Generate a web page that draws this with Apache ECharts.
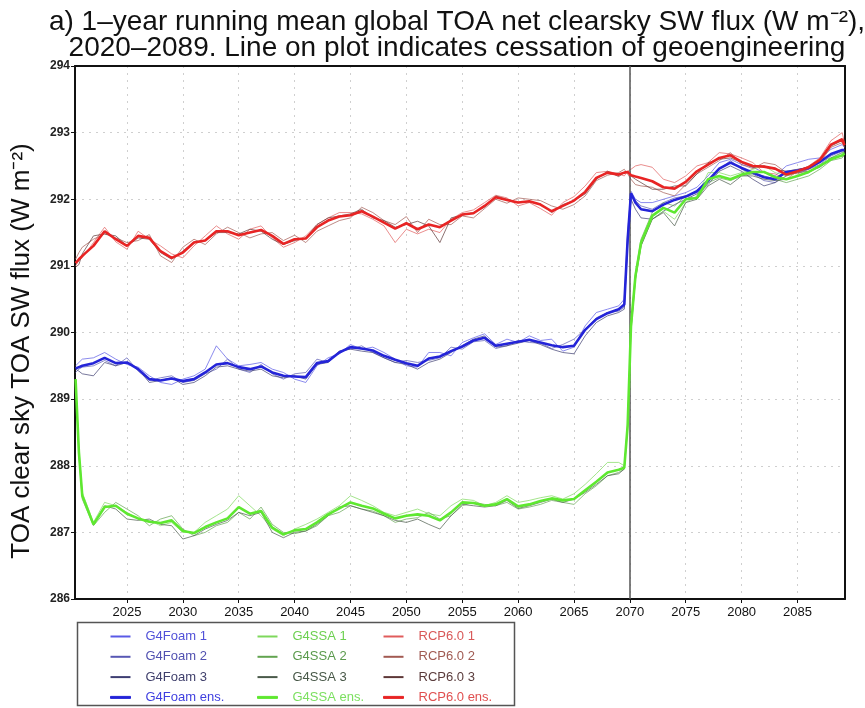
<!DOCTYPE html>
<html>
<head>
<meta charset="utf-8">
<script src="https://cdn.jsdelivr.net/npm/echarts@6/dist/echarts.min.js"></script>
<style>
html,body{margin:0;padding:0;background:#fff;}
#chart{width:865px;height:708px;}
</style>
</head>
<body>
<div id="chart"></div>
<script>
// ---------- DATA ----------
const titleText = "a) 1\u2013year running mean global TOA net clearsky SW flux (W m\u207B\u00B2),\n2020\u20132089. Line on plot indicates cessation of geoengineering";
const yAxisName = "TOA clear sky TOA SW flux (W m\u207B\u00B2)";
const xTickLabels = [2025, 2030, 2035, 2040, 2045, 2050, 2055, 2060, 2065, 2070, 2075, 2080, 2085];
const yTickLabels = [286, 287, 288, 289, 290, 291, 292, 293, 294];
const cessationYear = 2070;

const years = [
  2020.4, 2020.7, 2021, 2022, 2023, 2024, 2025, 2026, 2027, 2028,
  2029, 2030, 2031, 2032, 2033, 2034, 2035, 2036, 2037, 2038,
  2039, 2040, 2041, 2042, 2043, 2044, 2045, 2046, 2047, 2048,
  2049, 2050, 2051, 2052, 2053, 2054, 2055, 2056, 2057, 2058,
  2059, 2060, 2061, 2062, 2063, 2064, 2065, 2066, 2067, 2068,
  2069, 2069.5, 2069.8, 2070.1, 2070.5, 2071, 2072, 2073, 2074, 2075,
  2076, 2077, 2078, 2079, 2080, 2081, 2082, 2083, 2084, 2085,
  2086, 2087, 2088, 2089, 2089.2
];

const g4foam1 = [
  289.50, 289.55, 289.60, 289.62, 289.70, 289.60, 289.52, 289.48, 289.35, 289.25,
  289.22, 289.30, 289.35, 289.45, 289.80, 289.60, 289.50, 289.52, 289.55, 289.45,
  289.40, 289.30, 289.25, 289.50, 289.62, 289.68, 289.82, 289.75, 289.78, 289.70,
  289.60, 289.50, 289.48, 289.70, 289.70, 289.65, 289.85, 289.92, 289.98, 289.82,
  289.90, 289.85, 289.95, 289.88, 289.90, 289.72, 289.78, 290.10, 290.30, 290.35,
  290.40, 290.50, 291.50, 292.12, 292.00, 291.95, 291.95, 292.00, 292.05, 292.10,
  292.18, 292.35, 292.55, 292.60, 292.52, 292.48, 292.40, 292.35, 292.50, 292.55,
  292.60, 292.62, 292.75, 292.82, 292.78
];
const g4foam2 = [
  289.40, 289.45, 289.48, 289.50, 289.58, 289.50, 289.62, 289.42, 289.28, 289.32,
  289.35, 289.25, 289.28, 289.38, 289.45, 289.60, 289.45, 289.40, 289.52, 289.38,
  289.30, 289.38, 289.40, 289.60, 289.55, 289.72, 289.75, 289.80, 289.70, 289.62,
  289.55, 289.58, 289.55, 289.58, 289.62, 289.78, 289.75, 289.86, 289.88, 289.76,
  289.80, 289.88, 289.85, 289.84, 289.76, 289.82, 289.90, 290.05, 290.22, 290.30,
  290.32, 290.38, 291.30, 292.05, 291.98, 291.90, 291.85, 291.95, 292.02, 292.05,
  292.10, 292.25, 292.45, 292.58, 292.45, 292.38, 292.28, 292.25, 292.42, 292.40,
  292.45, 292.52, 292.65, 292.72, 292.70
];
const g4foam3 = [
  289.45, 289.42, 289.38, 289.35, 289.55, 289.50, 289.55, 289.45, 289.25, 289.28,
  289.32, 289.22, 289.25, 289.35, 289.48, 289.50, 289.45, 289.42, 289.45, 289.35,
  289.32, 289.35, 289.30, 289.52, 289.55, 289.72, 289.75, 289.72, 289.70, 289.62,
  289.55, 289.52, 289.45, 289.55, 289.60, 289.70, 289.80, 289.90, 289.95, 289.78,
  289.80, 289.84, 289.88, 289.82, 289.75, 289.70, 289.68, 289.95, 290.15, 290.25,
  290.30, 290.35, 291.35, 292.00, 291.85, 291.72, 291.70, 291.82, 291.92, 292.00,
  292.08, 292.22, 292.42, 292.50, 292.42, 292.30, 292.20, 292.25, 292.35, 292.40,
  292.42, 292.48, 292.62, 292.70, 292.72
];
const g4foamEns = [
  289.46, 289.48, 289.50, 289.54, 289.62, 289.54, 289.55, 289.45, 289.30, 289.28,
  289.31, 289.27, 289.30, 289.40, 289.52, 289.54, 289.48, 289.45, 289.49, 289.40,
  289.35, 289.34, 289.33, 289.54, 289.57, 289.70, 289.78, 289.76, 289.73, 289.65,
  289.59, 289.54, 289.50, 289.61, 289.64, 289.72, 289.79, 289.88, 289.92, 289.80,
  289.83, 289.86, 289.89, 289.85, 289.81, 289.78, 289.80, 290.04, 290.20, 290.29,
  290.35, 290.42, 291.39, 292.09, 291.95, 291.85, 291.82, 291.92, 291.99, 292.04,
  292.12, 292.28, 292.46, 292.55, 292.47, 292.40, 292.33, 292.30, 292.41, 292.43,
  292.47, 292.56, 292.68, 292.74, 292.74
];

const g4ssa1 = [
  289.30, 288.25, 287.60, 287.15, 287.45, 287.40, 287.30, 287.20, 287.18, 287.10,
  287.15, 287.00, 287.00, 287.15, 287.25, 287.35, 287.55, 287.40, 287.25, 287.05,
  286.95, 287.05, 287.12, 287.20, 287.30, 287.40, 287.55, 287.48, 287.40, 287.30,
  287.25, 287.30, 287.35, 287.28, 287.25, 287.40, 287.50, 287.48, 287.40, 287.45,
  287.55, 287.45, 287.48, 287.52, 287.55, 287.50, 287.58, 287.72, 287.88, 288.05,
  288.05, 288.00, 288.60, 290.00, 290.80, 291.30, 291.70, 291.82, 291.70, 291.95,
  292.05, 292.40, 292.40, 292.35, 292.40, 292.45, 292.50, 292.40, 292.35, 292.40,
  292.50, 292.58, 292.62, 292.70, 292.70
];
const g4ssa2 = [
  289.30, 288.15, 287.50, 287.10, 287.30, 287.45, 287.35, 287.25, 287.10, 287.20,
  287.25, 287.05, 286.95, 287.00, 287.10, 287.15, 287.30, 287.20, 287.38, 287.12,
  287.00, 286.98, 287.02, 287.10, 287.25, 287.30, 287.40, 287.35, 287.32, 287.25,
  287.15, 287.20, 287.22, 287.30, 287.20, 287.25, 287.40, 287.45, 287.42, 287.40,
  287.45, 287.35, 287.38, 287.42, 287.48, 287.45, 287.42, 287.58, 287.70, 287.85,
  287.90, 287.95, 288.55, 290.15, 290.90, 291.40, 291.80, 291.95, 291.90, 292.05,
  292.00, 292.25, 292.32, 292.28, 292.35, 292.38, 292.35, 292.30, 292.25, 292.30,
  292.35, 292.45, 292.58, 292.62, 292.68
];
const g4ssa3 = [
  289.30, 288.20, 287.55, 287.12, 287.40, 287.35, 287.20, 287.18, 287.20, 287.12,
  287.10, 286.90, 286.95, 287.05, 287.12, 287.18, 287.30, 287.25, 287.30, 287.00,
  286.92, 287.00, 287.02, 287.12, 287.25, 287.38, 287.40, 287.35, 287.30, 287.25,
  287.18, 287.15, 287.20, 287.12, 287.05, 287.25, 287.42, 287.40, 287.38, 287.40,
  287.48, 287.36, 287.40, 287.45, 287.50, 287.45, 287.50, 287.60, 287.72, 287.85,
  287.88, 287.95, 288.65, 290.05, 290.80, 291.30, 291.70, 291.80, 291.60, 291.95,
  292.00, 292.20, 292.30, 292.22, 292.35, 292.35, 292.30, 292.28, 292.30, 292.35,
  292.40, 292.50, 292.62, 292.65, 292.65
];
const g4ssaEns = [
  289.30, 288.20, 287.55, 287.12, 287.38, 287.40, 287.28, 287.21, 287.16, 287.14,
  287.18, 287.02, 286.99, 287.08, 287.15, 287.21, 287.38, 287.28, 287.32, 287.07,
  286.97, 287.03, 287.05, 287.15, 287.27, 287.36, 287.45, 287.40, 287.36, 287.28,
  287.21, 287.25, 287.27, 287.25, 287.18, 287.30, 287.45, 287.44, 287.40, 287.42,
  287.50, 287.39, 287.42, 287.47, 287.51, 287.48, 287.50, 287.63, 287.76, 287.90,
  287.94, 287.97, 288.60, 290.10, 290.85, 291.35, 291.75, 291.87, 291.80, 292.00,
  292.02, 292.30, 292.35, 292.30, 292.37, 292.41, 292.41, 292.33, 292.30, 292.35,
  292.41, 292.50, 292.60, 292.66, 292.69
];

const rcp1 = [
  291.00, 291.08, 291.12, 291.35, 291.58, 291.36, 291.25, 291.52, 291.40, 291.30,
  291.18, 291.12, 291.30, 291.45, 291.60, 291.48, 291.40, 291.55, 291.60, 291.42,
  291.28, 291.35, 291.45, 291.62, 291.72, 291.80, 291.80, 291.78, 291.70, 291.60,
  291.35, 291.55, 291.48, 291.55, 291.50, 291.70, 291.80, 291.84, 291.95, 292.06,
  292.02, 291.90, 291.95, 291.86, 291.76, 291.95, 292.04, 292.20, 292.40, 292.42,
  292.38, 292.35, 292.42, 292.45, 292.50, 292.52, 292.48, 292.30, 292.25, 292.35,
  292.50, 292.55, 292.70, 292.68, 292.62, 292.55, 292.40, 292.38, 292.30, 292.42,
  292.50, 292.62, 292.88, 293.00, 292.85
];
const rcp2 = [
  291.10, 291.20, 291.28, 291.40, 291.48, 291.42, 291.35, 291.38, 291.47, 291.15,
  291.05, 291.28, 291.40, 291.32, 291.48, 291.58, 291.50, 291.42, 291.48, 291.50,
  291.38, 291.46, 291.35, 291.52, 291.60, 291.68, 291.72, 291.88, 291.80, 291.68,
  291.62, 291.74, 291.50, 291.70, 291.62, 291.62, 291.75, 291.72, 291.86, 292.00,
  291.94, 292.02, 292.00, 291.98, 291.90, 291.85, 291.92, 292.05, 292.28, 292.36,
  292.40, 292.45, 292.38, 292.30, 292.22, 292.20, 292.18, 292.10, 292.05, 292.22,
  292.38, 292.48, 292.58, 292.70, 292.52, 292.46, 292.55, 292.52, 292.40, 292.38,
  292.45, 292.55, 292.78, 292.85, 292.78
];
const rcp3 = [
  290.98, 291.02, 291.18, 291.45, 291.48, 291.45, 291.30, 291.42, 291.40, 291.20,
  291.10, 291.22, 291.36, 291.38, 291.50, 291.50, 291.48, 291.55, 291.52, 291.40,
  291.32, 291.38, 291.42, 291.62, 291.72, 291.75, 291.78, 291.85, 291.72, 291.68,
  291.58, 291.62, 291.67, 291.60, 291.35, 291.72, 291.76, 291.80, 291.88, 292.05,
  292.00, 291.95, 291.96, 291.93, 291.80, 291.92, 291.98, 292.08, 292.30, 292.42,
  292.34, 292.40, 292.42, 292.35, 292.30, 292.25, 292.15, 292.15, 292.20, 292.20,
  292.38, 292.55, 292.60, 292.62, 292.55, 292.48, 292.50, 292.45, 292.42, 292.45,
  292.48, 292.60, 292.80, 292.88, 292.80
];
const rcpEns = [
  291.04, 291.10, 291.15, 291.30, 291.52, 291.40, 291.30, 291.45, 291.42, 291.22,
  291.12, 291.20, 291.35, 291.38, 291.52, 291.52, 291.46, 291.50, 291.54, 291.45,
  291.33, 291.40, 291.41, 291.58, 291.68, 291.74, 291.76, 291.82, 291.74, 291.65,
  291.56, 291.64, 291.55, 291.62, 291.58, 291.68, 291.77, 291.79, 291.90, 292.03,
  291.99, 291.95, 291.97, 291.92, 291.82, 291.90, 291.98, 292.11, 292.32, 292.40,
  292.37, 292.40, 292.41, 292.36, 292.34, 292.32, 292.27, 292.18, 292.16, 292.26,
  292.42, 292.52, 292.62, 292.66, 292.56, 292.50, 292.49, 292.46, 292.37, 292.42,
  292.48, 292.59, 292.82, 292.90, 292.81
];

const seriesNames = [
  "G4Foam 1", "G4Foam 2", "G4Foam 3", "G4Foam ens.",
  "G4SSA 1", "G4SSA 2", "G4SSA 3", "G4SSA ens.",
  "RCP6.0 1", "RCP6.0 2", "RCP6.0 3", "RCP6.0 ens."
];
const seriesValues = [
  g4foam1, g4foam2, g4foam3, g4foamEns,
  g4ssa1, g4ssa2, g4ssa3, g4ssaEns,
  rcp1, rcp2, rcp3, rcpEns
];

// ---------- STYLE ----------
const lineColors = [
  '#5a5ae6', '#5858b4', '#3e3e72', '#2424d8',
  '#7ed85c', '#62a450', '#4a5a4a', '#5ee830',
  '#e05c5c', '#a25a52', '#5e3838', '#e82424'
];
const legendTextColors = [
  '#5050d8', '#5050b0', '#40406c', '#4040e0',
  '#6cd050', '#5a9a4c', '#485848', '#7ce060',
  '#d85858', '#a05a52', '#5a3c3c', '#e05050'
];
const FONT = 'Liberation Sans, Arial, sans-serif';

const chart = echarts.init(document.getElementById('chart'), null, {renderer: 'canvas'});

function isEns(i) { return i % 4 === 3; }

const series = [];
const order = [0,1,2,4,5,6,8,9,10,3,7,11];
order.forEach(function (i) {
  const s = {
    name: seriesNames[i],
    type: 'line',
    showSymbol: false,
    symbol: 'none',
    color: lineColors[i],
    lineStyle: {
      width: isEns(i) ? 2.6 : 1,
      opacity: isEns(i) ? 1 : 0.7,
      color: lineColors[i]
    },
    z: isEns(i) ? 5 : 3,
    silent: true,
    animation: false,
    data: years.map(function (x, k) { return [x, seriesValues[i][k]]; })
  };
  if (i === 11) {
    s.markLine = {
      silent: true,
      symbol: 'none',
      label: {show: false},
      lineStyle: {color: '#555', width: 1.5, type: 'solid'},
      data: [{xAxis: cessationYear}]
    };
  }
  series.push(s);
});

function legendCol(startIdx, left) {
  return {
    orient: 'vertical',
    left: left,
    top: 625,
    height: 90,
    itemWidth: 20,
    itemHeight: 2,
    itemGap: 7.3,
    icon: 'rect',
    selectedMode: false,
    textStyle: {fontFamily: FONT, fontSize: 13, padding: [0, 0, 0, 10]},
    data: [0,1,2,3].map(function (k) {
      const i = startIdx + k;
      const item = {name: seriesNames[i], textStyle: {color: legendTextColors[i]},
        itemStyle: {color: lineColors[i]}};
      if (k === 3) { item.itemStyle.borderColor = lineColors[i]; item.itemStyle.borderWidth = 1; }
      return item;
    })
  };
}

const gridLine = {show: true, lineStyle: {color: '#cfcfcf', type: [2, 5], width: 1}};

const option = {
  backgroundColor: '#fff',
  animation: false,
  title: {
    text: titleText,
    left: 452,
    top: 4,
    textAlign: 'center',
    textStyle: {fontFamily: FONT, fontSize: 28, fontWeight: 'normal', color: '#111', lineHeight: 26}
  },
  grid: {left: 75, right: 20, top: 66, bottom: 109},
  legend: [legendCol(0, 105), legendCol(4, 252), legendCol(8, 378)],
  graphic: [{
    type: 'rect',
    left: 75, top: 620,
    shape: {width: 437, height: 83},
    style: {fill: 'none', stroke: '#555', lineWidth: 1.5},
    silent: true
  }, {
    type: 'text',
    x: 22, y: 351,
    rotation: Math.PI / 2,
    silent: true,
    style: {text: yAxisName, fontFamily: FONT, fontSize: 26, fill: '#111',
      textAlign: 'center', textVerticalAlign: 'middle'}
  }],
  xAxis: [{
    type: 'value',
    min: 2020.35,
    max: 2089.25,
    axisLine: {show: true, lineStyle: {color: '#111', width: 2}},
    axisTick: {show: true, customValues: xTickLabels, length: 4, lineStyle: {color: '#111'}},
    axisLabel: {customValues: xTickLabels, fontFamily: FONT, fontSize: 13, color: '#111', margin: 7,
      formatter: function (v) { return String(Math.round(v)); }},
    splitLine: gridLine
  }, {
    type: 'value', position: 'top',
    min: 2020.35, max: 2089.25,
    axisLine: {show: true, lineStyle: {color: '#111', width: 2}},
    axisTick: {show: false}, axisLabel: {show: false}, splitLine: {show: false}
  }],
  yAxis: [{
    type: 'value',
    min: yTickLabels[0],
    max: yTickLabels[yTickLabels.length - 1],
    interval: 1,
    axisLine: {show: true, lineStyle: {color: '#111', width: 2}},
    axisTick: {show: true, length: 4, lineStyle: {color: '#111'}},
    axisLabel: {fontFamily: FONT, fontSize: 12, fontWeight: 'bold', color: '#222', margin: 5},
    splitLine: gridLine
  }, {
    type: 'value', position: 'right',
    min: yTickLabels[0], max: yTickLabels[yTickLabels.length - 1],
    axisLine: {show: true, lineStyle: {color: '#111', width: 2}},
    axisTick: {show: false}, axisLabel: {show: false}, splitLine: {show: false}
  }],
  series: series
};

chart.setOption(option);
</script>
</body>
</html>
